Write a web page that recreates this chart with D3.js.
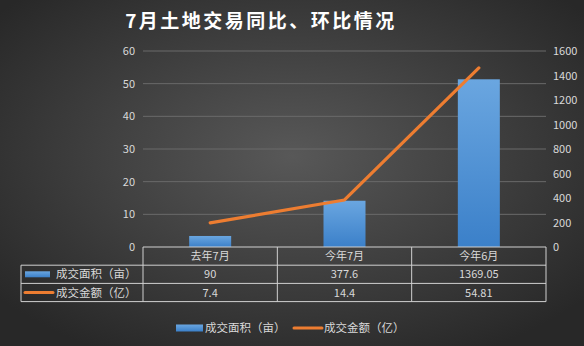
<!DOCTYPE html>
<html>
<head>
<meta charset="utf-8">
<title>7月土地交易</title>
<script src="https://d3js.org/d3.v7.min.js"></script>
<style>
  body { margin: 0; background: #333; }
  text { font-family: "Noto Sans CJK SC", "Noto Sans", sans-serif; }
</style>
</head>
<body>
<svg width="584" height="346" id="mainsvg"></svg>
<script>
// 数据
const categories = ['去年7月', '今年7月', '今年6月'];
const areaValues = [90, 377.6, 1369.05];     // 成交面积（亩），右轴
const amountValues = [7.4, 14.4, 54.81];     // 成交金额（亿），左轴
const areaLabels = ['90', '377.6', '1369.05'];
const amountLabels = ['7.4', '14.4', '54.81'];
const leftTicks = [0, 10, 20, 30, 40, 50, 60];
const rightTicks = [0, 200, 400, 600, 800, 1000, 1200, 1400, 1600];
const seriesNames = ['成交面积（亩）', '成交金额（亿）'];
const title = '7月土地交易同比、环比情况';

const svg = d3.select('#mainsvg');
const width = 584, height = 346;
const margin = { top: 51, right: 38, bottom: 99, left: 143 };
const innerW = width - margin.left - margin.right;
const innerH = height - margin.top - margin.bottom;

// 背景
const defs = svg.append('defs');
const bg = defs.append('radialGradient').attr('id', 'bg')
  .attr('cx', '50%').attr('cy', '45%').attr('r', '65%');
bg.append('stop').attr('offset', '0%').attr('stop-color', '#585858');
bg.append('stop').attr('offset', '100%').attr('stop-color', '#282828');
const barGrad = defs.append('linearGradient').attr('id', 'bar')
  .attr('x1', 0).attr('y1', 0).attr('x2', 0).attr('y2', 1);
barGrad.append('stop').attr('offset', '0%').attr('stop-color', '#6aa6e0');
barGrad.append('stop').attr('offset', '100%').attr('stop-color', '#3b80c9');

svg.append('rect').attr('width', width).attr('height', height).attr('fill', 'url(#bg)');

svg.append('text')
  .attr('x', 261).attr('y', 28)
  .attr('text-anchor', 'middle')
  .attr('fill', '#ffffff')
  .attr('font-size', 19)
  .attr('font-weight', 'bold')
  .attr('letter-spacing', 2.5)
  .text(title);

const g = svg.append('g').attr('transform', `translate(${margin.left},${margin.top})`);

const x = d3.scaleBand().domain(categories).range([0, innerW]);
const yL = d3.scaleLinear().domain([0, 60]).range([innerH, 0]);
const yR = d3.scaleLinear().domain([0, 1600]).range([innerH, 0]);

// 网格线
g.selectAll('.grid').data(leftTicks.slice(1)).enter().append('line')
  .attr('x1', 0).attr('x2', innerW)
  .attr('y1', d => yL(d)).attr('y2', d => yL(d))
  .attr('stroke', '#6a6a6a').attr('stroke-width', 1);

// 左轴
const axL = g.append('g').call(d3.axisLeft(yL).tickValues(leftTicks).tickSize(0).tickPadding(8));
axL.select('.domain').remove();
axL.selectAll('text').attr('fill', '#d9d9d9').attr('font-size', 11);

// 右轴
const axR = g.append('g').attr('transform', `translate(${innerW},0)`)
  .call(d3.axisRight(yR).tickValues(rightTicks).tickFormat(d3.format('d')).tickSize(0).tickPadding(7));
axR.select('.domain').remove();
axR.selectAll('text').attr('fill', '#d9d9d9').attr('font-size', 11);

// 柱
const barW = 42;
g.selectAll('.bar').data(areaValues).enter().append('rect')
  .attr('x', (d, i) => x(categories[i]) + x.bandwidth() / 2 - barW / 2)
  .attr('y', d => yR(d))
  .attr('width', barW)
  .attr('height', d => innerH - yR(d))
  .attr('fill', 'url(#bar)');

// 折线
const line = d3.line()
  .x((d, i) => x(categories[i]) + x.bandwidth() / 2)
  .y(d => yL(d));
g.append('path').datum(amountValues)
  .attr('d', line)
  .attr('fill', 'none')
  .attr('stroke', '#ed7d31')
  .attr('stroke-width', 3.2)
  .attr('stroke-linecap', 'round')
  .attr('stroke-linejoin', 'round');

// 数据表
const rowH = 18.2;
const tableLeft = 21 - margin.left;
const tbl = g.append('g').attr('transform', `translate(0,${innerH})`);
const tColor = '#d0d0d0';
// 横线
tbl.append('line').attr('x1', 0).attr('x2', innerW).attr('y1', 0).attr('y2', 0)
  .attr('stroke', tColor);
[1, 2, 3].forEach(r => {
  tbl.append('line').attr('x1', tableLeft).attr('x2', innerW)
    .attr('y1', r * rowH).attr('y2', r * rowH).attr('stroke', tColor);
});
// 竖线
tbl.append('line').attr('x1', tableLeft).attr('x2', tableLeft)
  .attr('y1', rowH).attr('y2', 3 * rowH).attr('stroke', tColor);
[0, 1, 2, 3].forEach(c => {
  tbl.append('line').attr('x1', c * x.bandwidth()).attr('x2', c * x.bandwidth())
    .attr('y1', 0).attr('y2', 3 * rowH).attr('stroke', tColor);
});
// 表头
tbl.selectAll('.hd').data(categories).enter().append('text')
  .attr('x', d => x(d) + x.bandwidth() / 2)
  .attr('y', rowH / 2 + 4)
  .attr('text-anchor', 'middle').attr('fill', '#d9d9d9').attr('font-size', 11)
  .text(d => d);
[areaLabels, amountLabels].forEach((row, r) => {
  tbl.selectAll('.r' + r).data(row).enter().append('text')
    .attr('x', (d, i) => x(categories[i]) + x.bandwidth() / 2)
    .attr('y', (r + 1) * rowH + rowH / 2 + 4)
    .attr('text-anchor', 'middle').attr('fill', '#d9d9d9').attr('font-size', 11)
    .text(d => d);
});
// 表内图例
tbl.append('rect').attr('x', tableLeft + 4).attr('y', rowH * 1.5 - 3)
  .attr('width', 25).attr('height', 6).attr('fill', 'url(#bar)');
tbl.append('line').attr('x1', tableLeft + 4).attr('x2', tableLeft + 32)
  .attr('y1', rowH * 2.5).attr('y2', rowH * 2.5)
  .attr('stroke', '#ed7d31').attr('stroke-width', 3).attr('stroke-linecap', 'round');
seriesNames.forEach((name, r) => {
  tbl.append('text').attr('x', tableLeft + 35).attr('y', (r + 1) * rowH + rowH / 2 + 4)
    .attr('fill', '#d9d9d9').attr('font-size', 11.5).text(name);
});

// 底部图例
const lg = svg.append('g').attr('transform', 'translate(0,328)');
lg.append('rect').attr('x', 176).attr('y', -3.5).attr('width', 27).attr('height', 7)
  .attr('fill', 'url(#bar)');
lg.append('text').attr('x', 205).attr('y', 4).attr('fill', '#d9d9d9')
  .attr('font-size', 11.5).text(seriesNames[0]);
lg.append('line').attr('x1', 294).attr('x2', 322).attr('y1', 0).attr('y2', 0)
  .attr('stroke', '#ed7d31').attr('stroke-width', 3).attr('stroke-linecap', 'round');
lg.append('text').attr('x', 324).attr('y', 4).attr('fill', '#d9d9d9')
  .attr('font-size', 11.5).text(seriesNames[1]);
</script>
</body>
</html>
